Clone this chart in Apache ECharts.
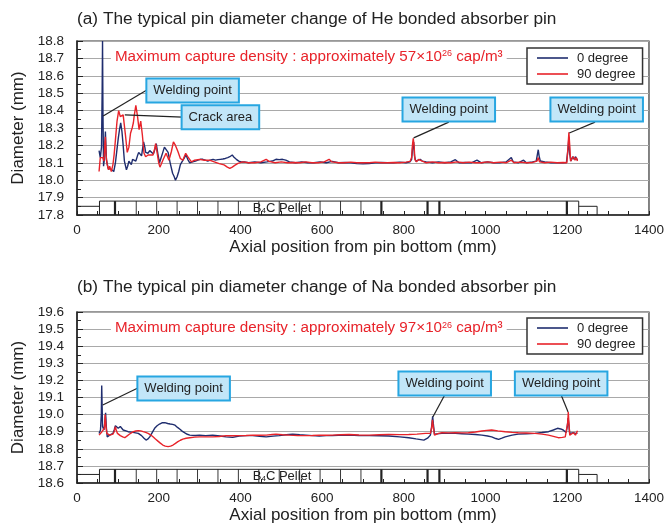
<!DOCTYPE html>
<html><head><meta charset="utf-8">
<script src="https://cdn.jsdelivr.net/npm/echarts@6/dist/echarts.min.js"></script>
<style>html,body{margin:0;padding:0;background:#fff}#c{width:667px;height:528px}</style>
</head><body><div id="c"></div>
<script>
const FONT = '"Liberation Sans", Arial, Helvetica, sans-serif';
const BLUE = '#1f2d6e', RED = '#e8232a';

const titles = ['(a) The typical pin diameter change of He bonded absorber pin',
                '(b) The typical pin diameter change of Na bonded absorber pin'];
const seriesNames = ['0 degree', '90 degree'];
const densityA = '57', densityB = '97';
const xRange = [0, 1400, 200];
const yRangeA = [17.8, 18.8, 0.1];
const yRangeB = [18.6, 19.6, 0.1];

// (a) He bonded pin, 0 degree
const heDeg0 = [[54,18.17],[57,18.13],[60,18.19],[61.5,18.5],[62.5,18.8],[63.5,18.4],[65,18.08],[67,18.12],[69.5,18.28],[72,18.12],[76,18.07],[80,18.06],[85,18.06],[90,18.05],[94,18.1],[97,18.16],[101,18.24],[104,18.29],[107,18.33],[110,18.28],[113,18.2],[116,18.11],[121,18.06],[124,18.08],[127,18.11],[133,18.09],[136,18.12],[139,18.13],[144,18.11],[148,18.14],[151,18.16],[155,18.15],[158,18.14],[163,18.22],[166,18.19],[168,18.16],[174,18.155],[178,18.17],[182,18.16],[187,18.15],[191,18.18],[194,18.21],[198,18.15],[202,18.1],[206,18.13],[210,18.16],[214,18.19],[218,18.2],[223,18.16],[228,18.1],[234,18.04],[238,18.02],[241,18.0],[245,18.02],[249,18.05],[253,18.09],[258,18.11],[263,18.13],[267,18.145],[271,18.12],[276,18.1],[283,18.105],[290,18.11],[296,18.115],[302,18.12],[308,18.12],[314,18.115],[320,18.11],[326,18.115],[333,18.12],[339,18.115],[345,18.118],[351,18.12],[357,18.122],[363,18.125],[369,18.13],[374,18.135],[380,18.145],[385,18.13],[390,18.12],[396,18.11],[402,18.105],[410,18.105],[420,18.1],[435,18.105],[450,18.1],[465,18.105],[478,18.11],[487,18.12],[495,18.118],[503,18.12],[511,18.115],[520,18.105],[535,18.1],[550,18.105],[565,18.1],[580,18.1],[595,18.105],[610,18.1],[625,18.108],[640,18.1],[655,18.102],[670,18.1],[685,18.095],[700,18.094],[715,18.096],[730,18.1],[745,18.102],[760,18.1],[775,18.1],[790,18.104],[805,18.1],[815,18.105],[819,18.12],[822,18.2],[824,18.22],[826,18.14],[829,18.11],[835,18.115],[840,18.12],[845,18.11],[855,18.105],[870,18.1],[885,18.105],[900,18.1],[915,18.105],[926,18.118],[935,18.1],[950,18.102],[965,18.1],[979,18.115],[990,18.1],[1005,18.105],[1020,18.1],[1035,18.1],[1050,18.105],[1063,18.13],[1068,18.105],[1080,18.1],[1093,18.115],[1100,18.1],[1115,18.105],[1124,18.11],[1127,18.15],[1129,18.175],[1131,18.14],[1134,18.11],[1145,18.105],[1160,18.1],[1175,18.1],[1190,18.1],[1198,18.102],[1202,18.18],[1204,18.25],[1206,18.15],[1209,18.11],[1213,18.135],[1217,18.12],[1220,18.135],[1225,18.115]];
// (a) He bonded pin, 90 degree
const heDeg90 = [[54,18.05],[57,18.13],[60,18.14],[63,18.13],[66,18.11],[68,18.2],[69.5,18.25],[71,18.15],[73,18.1],[77,18.06],[80,18.08],[84,18.05],[88,18.09],[91,18.15],[94,18.23],[98,18.34],[102,18.4],[106,18.365],[110,18.37],[113,18.375],[116,18.38],[119,18.25],[123,18.16],[127,18.19],[131,18.27],[135,18.3],[138,18.33],[140,18.37],[144,18.43],[148,18.37],[152,18.29],[156,18.34],[160,18.26],[164,18.155],[168,18.135],[174,18.145],[180,18.145],[186,18.145],[190,18.18],[192.5,18.21],[196,18.16],[200,18.1],[203,18.075],[207,18.075],[212,18.125],[218,18.155],[225,18.115],[231,18.165],[236,18.22],[241,18.2],[247,18.165],[253,18.125],[259,18.115],[266,18.155],[271,18.135],[280,18.105],[288,18.115],[300,18.12],[312,18.115],[324,18.115],[336,18.105],[348,18.095],[360,18.088],[368,18.075],[374,18.068],[380,18.075],[386,18.085],[394,18.097],[405,18.105],[420,18.1],[435,18.1],[450,18.105],[463,18.12],[470,18.108],[485,18.1],[500,18.105],[515,18.1],[530,18.102],[545,18.1],[560,18.105],[575,18.1],[590,18.1],[605,18.105],[617,18.12],[624,18.105],[640,18.1],[655,18.1],[670,18.104],[685,18.1],[700,18.1],[715,18.1],[730,18.104],[745,18.1],[760,18.1],[775,18.102],[790,18.1],[805,18.104],[815,18.108],[819,18.13],[821,18.2],[823,18.24],[825,18.2],[827,18.12],[831,18.105],[836,18.12],[840,18.125],[845,18.11],[855,18.1],[870,18.105],[885,18.1],[900,18.102],[915,18.1],[930,18.105],[945,18.1],[960,18.104],[975,18.1],[990,18.1],[1005,18.105],[1020,18.1],[1035,18.104],[1050,18.1],[1063,18.115],[1070,18.1],[1085,18.104],[1100,18.1],[1115,18.102],[1126,18.11],[1129,18.13],[1132,18.105],[1145,18.1],[1160,18.104],[1175,18.1],[1190,18.102],[1199,18.1],[1202,18.2],[1204,18.275],[1206,18.2],[1208,18.11],[1212,18.12],[1215,18.135],[1219,18.115],[1222,18.13],[1225,18.11]];
// (b) Na bonded pin, 0 degree
const naDeg0 = [[54,18.89],[57.5,18.91],[59.5,19.0],[60.5,19.17],[61.5,19.05],[62.5,18.93],[66,18.91],[68,18.95],[70,19.01],[72,18.92],[74,18.87],[80,18.88],[88,18.89],[91,18.91],[94,18.935],[98,18.925],[101,18.92],[106,18.93],[110,18.92],[113,18.91],[120,18.905],[125,18.9],[137,18.896],[150,18.89],[158,18.877],[164,18.862],[169,18.851],[174,18.858],[178,18.87],[184,18.895],[190,18.92],[196,18.935],[202,18.945],[208,18.952],[215,18.953],[222,18.948],[228,18.945],[234,18.943],[240,18.938],[246,18.925],[252,18.914],[258,18.902],[264,18.893],[270,18.885],[276,18.88],[290,18.878],[300,18.88],[315,18.877],[332,18.88],[350,18.875],[365,18.87],[381,18.867],[397,18.875],[415,18.877],[430,18.877],[447,18.873],[463,18.87],[480,18.874],[495,18.877],[512,18.882],[528,18.885],[545,18.882],[560,18.88],[577,18.877],[593,18.875],[610,18.877],[625,18.877],[640,18.879],[666,18.88],[690,18.878],[715,18.877],[740,18.876],[763,18.875],[790,18.87],[812,18.865],[830,18.858],[849,18.851],[858,18.862],[865,18.88],[868,18.93],[870.5,18.99],[872,18.95],[875,18.886],[893,18.89],[910,18.89],[926,18.89],[942,18.888],[958,18.886],[975,18.884],[991,18.88],[1005,18.875],[1015,18.87],[1025,18.86],[1032,18.855],[1040,18.862],[1048,18.87],[1065,18.88],[1080,18.886],[1100,18.888],[1121,18.89],[1138,18.895],[1154,18.9],[1166,18.91],[1176,18.92],[1184,18.916],[1190,18.91],[1197,18.895],[1200,18.93],[1202,18.98],[1204,18.94],[1206,18.89],[1210,18.892],[1215,18.894],[1220,18.89],[1225,18.89]];
// (b) Na bonded pin, 90 degree
const naDeg90 = [[54,18.88],[58,18.89],[61,18.9],[64,18.89],[67,18.92],[69,19.0],[71,18.93],[73,18.89],[80,18.88],[88,18.886],[91,18.9],[94,18.93],[96,18.91],[99,18.89],[106,18.877],[112,18.87],[117,18.865],[122,18.874],[128,18.885],[133,18.893],[138,18.9],[144,18.904],[150,18.906],[156,18.905],[162,18.9],[168,18.896],[174,18.89],[180,18.882],[186,18.87],[192,18.857],[198,18.845],[204,18.833],[210,18.822],[216,18.816],[223,18.813],[229,18.816],[235,18.822],[241,18.832],[247,18.842],[253,18.85],[259,18.857],[267,18.862],[276,18.865],[288,18.868],[300,18.87],[316,18.87],[332,18.87],[348,18.872],[365,18.877],[381,18.876],[397,18.877],[414,18.878],[430,18.88],[446,18.879],[463,18.88],[478,18.884],[487,18.886],[503,18.882],[520,18.88],[540,18.878],[560,18.877],[576,18.878],[593,18.88],[610,18.879],[625,18.88],[645,18.882],[666,18.884],[690,18.881],[715,18.88],[740,18.882],[763,18.884],[790,18.883],[812,18.884],[832,18.886],[853,18.89],[865,18.89],[868,18.92],[870,18.97],[872,18.93],[875,18.88],[885,18.89],[893,18.894],[910,18.893],[926,18.894],[942,18.893],[958,18.894],[975,18.898],[991,18.904],[1003,18.908],[1015,18.91],[1030,18.905],[1048,18.9],[1065,18.896],[1080,18.894],[1100,18.892],[1121,18.89],[1138,18.886],[1154,18.88],[1166,18.873],[1178,18.865],[1188,18.867],[1195,18.87],[1199,18.87],[1201,18.95],[1202.5,19.015],[1204,18.95],[1206,18.88],[1210,18.886],[1215,18.894],[1220,18.88],[1225,18.906]];

// B4C pellet column drawing (axial positions, mm) and levels (mm)
const pelletEdges = [0, 55, 1228, 1273];
const pelletThin = [145,195,245,295,345,395,445,495,545,595,645,695];
const pelletThick = [93,745,858,887,1199];
const pelletLevelsA = [17.8, 17.85, 17.88];
const pelletLevelsB = [18.6, 18.65, 18.68];
const pelletLabelPos = [502, 0.04];

// callouts: [text, box centre (data), leader start (data), leader end (data)]
const calloutsA = [
  ['Welding point', [283, 18.516], [171, 18.518], [64, 18.369]],
  ['Crack area', [351, 18.362], [258, 18.363], [117, 18.375]],
  ['Welding point', [910, 18.406], [910, 18.334], [824, 18.243]],
  ['Welding point', [1272, 18.406], [1268, 18.334], [1205, 18.271]]
];
const calloutsB = [
  ['Welding point', [261, 19.153], [149, 19.156], [63, 19.056]],
  ['Welding point', [900, 19.182], [900, 19.115], [871, 18.986]],
  ['Welding point', [1185, 19.182], [1185, 19.115], [1202, 19.015]]
];
const noteA = [83, 18.708], noteB = [83, 19.505];

function pelletSegs(lv) {
  const [b, s, t] = lv, [e0, e1, e2, e3] = pelletEdges;
  const segs = [
    [e0, s, e1, s, 1], [e1, b, e1, t, 1], [e1, t, e2, t, 1], [e2, b, e2, t, 1],
    [e2, s, e3, s, 1], [e3, s, e3, b, 1]
  ];
  pelletThin.forEach(x => segs.push([x, b, x, t, 0.9]));
  pelletThick.forEach(x => segs.push([x, b, x, t, 2.2]));
  return segs;
}

function xAxis(gi) {
  return {
    type: 'value', gridIndex: gi, min: xRange[0], max: xRange[1], interval: xRange[2],
    name: 'Axial position from pin bottom (mm)', nameLocation: 'middle', nameGap: 24,
    nameTextStyle: { fontSize: 17, color: '#222', fontFamily: FONT },
    axisLine: { lineStyle: { color: '#222', width: 1.5 } },
    axisTick: { inside: true, length: 4, lineStyle: { color: '#222' } },
    minorTick: { show: true, splitNumber: 4, length: 4, lineStyle: { color: '#222' } },
    axisLabel: { fontSize: 13.5, color: '#222', fontFamily: FONT, margin: 8, formatter: v => String(v) },
    splitLine: { show: false }
  };
}
function yAxis(gi, r) {
  return {
    type: 'value', gridIndex: gi, min: r[0], max: r[1], interval: r[2],
    name: 'Diameter (mm)', nameLocation: 'middle', nameGap: 50, nameRotate: 90,
    nameTextStyle: { fontSize: 17, color: '#222', fontFamily: FONT },
    axisLine: { lineStyle: { color: '#222', width: 1.5 } },
    axisTick: { inside: true, length: 6, lineStyle: { color: '#222' } },
    minorTick: { show: true, splitNumber: 2, length: 4, lineStyle: { color: '#222' } },
    axisLabel: { fontSize: 13.5, color: '#222', fontFamily: FONT, margin: 13, formatter: v => v.toFixed(1) },
    splitLine: { show: true, lineStyle: { color: '#a9a9a9', width: 1 } }
  };
}
function lineSeries(name, data, color, gi) {
  return { type: 'line', name, data, xAxisIndex: gi, yAxisIndex: gi, showSymbol: false, symbol: 'none',
    lineStyle: { color, width: 1.4 }, itemStyle: { color }, z: 3 };
}
function pelletSeries(lv, gi) {
  return { type: 'custom', xAxisIndex: gi, yAxisIndex: gi, data: pelletSegs(lv), z: 2, silent: true,
    renderItem: (p, api) => {
      const a = api.coord([api.value(0), api.value(1)]);
      const b = api.coord([api.value(2), api.value(3)]);
      return { type: 'line', shape: { x1: a[0], y1: a[1], x2: b[0], y2: b[1] },
        style: { stroke: '#222', lineWidth: api.value(4) } };
    } };
}
function legend(top) {
  return { data: seriesNames, orient: 'vertical', left: 527, top, padding: [3, 7, 3, 10], itemGap: 2,
    itemWidth: 31, itemHeight: 1.6, icon: 'rect', backgroundColor: '#fff', borderColor: '#333', borderWidth: 1.5,
    textStyle: { fontSize: 13, color: '#222', fontFamily: FONT, lineHeight: 14, padding: [0, 0, 0, 4] } };
}

const chart = echarts.init(document.getElementById('c'), null, { renderer: 'canvas' });
chart.setOption({
  animation: false,
  backgroundColor: '#fff',
  textStyle: { fontFamily: FONT },
  title: [
    { text: titles[0], left: 77, top: 11, padding: 0, textStyle: { fontSize: 17.25, fontWeight: 'normal', color: '#222', fontFamily: FONT } },
    { text: titles[1], left: 77, top: 279, padding: 0, textStyle: { fontSize: 17.25, fontWeight: 'normal', color: '#222', fontFamily: FONT } }
  ],
  grid: [
    { left: 77, top: 41, width: 574, height: 174, show: true, borderColor: '#333', borderWidth: 1.2, backgroundColor: 'transparent' },
    { left: 77, top: 312, width: 574, height: 171, show: true, borderColor: '#333', borderWidth: 1.2, backgroundColor: 'transparent' }
  ],
  xAxis: [xAxis(0), xAxis(1)],
  yAxis: [yAxis(0, yRangeA), yAxis(1, yRangeB)],
  legend: [legend(48), legend(318)],
  series: [
    lineSeries(seriesNames[0], heDeg0, BLUE, 0),
    lineSeries(seriesNames[1], heDeg90, RED, 0),
    lineSeries(seriesNames[0], naDeg0, BLUE, 1),
    lineSeries(seriesNames[1], naDeg90, RED, 1),
    pelletSeries(pelletLevelsA, 0),
    pelletSeries(pelletLevelsB, 1)
  ]
});

const P = (gi, pt) => chart.convertToPixel({ gridIndex: gi }, pt);
const g = [];
function note(gi, pos, dens) {
  const p = P(gi, pos);
  g.push({ type: 'text', x: p[0], y: p[1], z: 10, style: {
    text: 'Maximum capture density : approximately ' + dens + '×10{sup|26} cap/m³',
    fill: RED, fontSize: 15.2, fontFamily: FONT, align: 'left', verticalAlign: 'middle',
    backgroundColor: '#fff', padding: [1, 4, 1, 4],
    rich: { sup: { fontSize: 9, fill: RED, fontFamily: FONT, verticalAlign: 'top', lineHeight: 10 } } } });
}
function callouts(gi, list) {
  list.forEach(([txt, box, from, to]) => {
    const a = P(gi, from), b = P(gi, to), c = P(gi, box);
    g.push({ type: 'line', z: 10, shape: { x1: a[0], y1: a[1], x2: b[0], y2: b[1] }, style: { stroke: '#222', lineWidth: 1.2 } });
    g.push({ type: 'text', x: c[0], y: c[1], z: 11, style: {
      text: txt, fill: '#222', fontSize: 13, fontFamily: FONT, align: 'center', verticalAlign: 'middle',
      backgroundColor: '#c2e6f8', borderColor: '#27a6e1', borderWidth: 2, padding: [5, 6, 4, 6] } });
  });
}
function pelletLabel(gi, lv) {
  const p = P(gi, [pelletLabelPos[0], lv[0] + pelletLabelPos[1]]);
  g.push({ type: 'text', x: p[0], y: p[1], z: 9, style: {
    text: 'B{sub|4}C Pellet', fill: '#222', fontSize: 13, fontFamily: FONT, align: 'center', verticalAlign: 'middle',
    rich: { sub: { fontSize: 8, fill: '#222', fontFamily: FONT, verticalAlign: 'bottom', lineHeight: 8 } } } });
}
note(0, noteA, densityA); note(1, noteB, densityB);
callouts(0, calloutsA); callouts(1, calloutsB);
pelletLabel(0, pelletLevelsA); pelletLabel(1, pelletLevelsB);
chart.setOption({ graphic: g });
</script></body></html>
